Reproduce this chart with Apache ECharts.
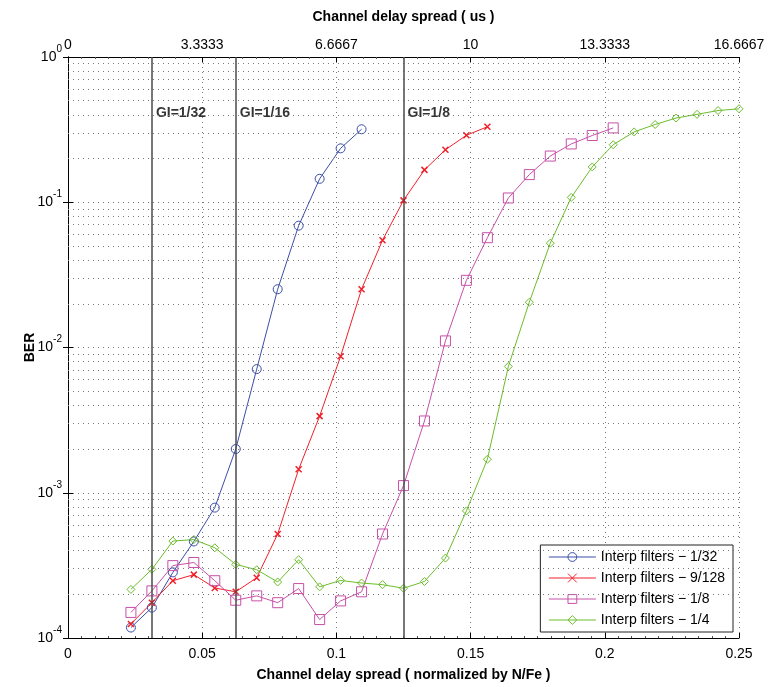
<!DOCTYPE html>
<html>
<head>
<meta charset="utf-8">
<script src="https://cdn.jsdelivr.net/npm/echarts@6/dist/echarts.min.js"></script>
<style>html,body{margin:0;padding:0;background:#fff;}#c{width:768px;height:687px;}</style>
</head>
<body>
<div id="c"></div>
<script>
// Normalized channel delay spread (x = k/128)
var delay = [0.0234375, 0.03125, 0.0390625, 0.046875, 0.0546875, 0.0625, 0.0703125, 0.078125,
  0.0859375, 0.09375, 0.1015625, 0.109375, 0.1171875, 0.125, 0.1328125, 0.140625, 0.1484375,
  0.15625, 0.1640625, 0.171875, 0.1796875, 0.1875, 0.1953125, 0.203125, 0.2109375, 0.21875,
  0.2265625, 0.234375, 0.2421875, 0.25];

var seriesNames = ['Interp filters \u2212 1/32', 'Interp filters \u2212 9/128', 'Interp filters \u2212 1/8', 'Interp filters \u2212 1/4'];

var berF32 = [1.18e-4, 1.62e-4, 2.83e-4, 4.62e-4, 7.9e-4, 2.0e-3, 7.1e-3, 0.0252, 0.069, 0.145, 0.235, 0.318];
var berF9_128 = [1.25e-4, 1.75e-4, 2.48e-4, 2.73e-4, 2.21e-4, 2.08e-4, 2.6e-4, 5.2e-4, 1.45e-3, 3.37e-3,
  8.7e-3, 0.0252, 0.0548, 0.103, 0.167, 0.23, 0.289, 0.331];
var berF8 = [1.5e-4, 2.11e-4, 3.15e-4, 3.31e-4, 2.48e-4, 1.82e-4, 1.95e-4, 1.75e-4, 2.19e-4, 1.34e-4,
  1.8e-4, 2.08e-4, 5.2e-4, 1.12e-3, 3.12e-3, 0.0111, 0.029, 0.057, 0.107, 0.155, 0.208, 0.252, 0.288, 0.325];
var berF4 = [2.16e-4, 2.97e-4, 4.65e-4, 4.76e-4, 4.18e-4, 3.21e-4, 2.95e-4, 2.43e-4, 3.46e-4, 2.25e-4,
  2.49e-4, 2.39e-4, 2.33e-4, 2.2e-4, 2.45e-4, 3.55e-4, 7.5e-4, 1.7e-3, 7.4e-3, 0.0205, 0.0523, 0.108,
  0.175, 0.249, 0.305, 0.343, 0.38, 0.403, 0.428, 0.44];

// Guard-interval markers
var giValues = [0.03125, 0.0625, 0.125];
var giLabels = ['GI=1/32', 'GI=1/16', 'GI=1/8'];

// Tick labels
var usTickLabels = ['0', '3.3333', '6.6667', '10', '13.3333', '16.6667'];
var berExponents = ['0', '-1', '-2', '-3', '-4'];

var colors = ['#3b4fa8', '#f0202a', '#c850a8', '#6cbd2c'];
var font = "'Liberation Sans', Arial, sans-serif";

function pairs(vals) { return vals.map(function (v, i) { return [delay[i], v]; }); }

// minor log grid positions (2..9 x decade)
var minorLines = [];
for (var d = -4; d < 0; d++) {
  for (var m = 2; m <= 9; m++) minorLines.push({ yAxis: m * Math.pow(10, d) });
}

var chart = echarts.init(document.getElementById('c'), null, { renderer: 'canvas' });
var dotted = { color: '#7a7a7a', width: 1, type: [1, 4] };

var option = {
  animation: false,
  backgroundColor: '#fff',
  textStyle: { fontFamily: font },
  grid: { left: 68, right: 29, top: 57, bottom: 48, show: false },
  xAxis: [{
    type: 'value', min: 0, max: 0.25, interval: 0.05, position: 'bottom',
    name: 'Channel delay spread ( normalized by N/Fe )', nameLocation: 'middle', nameGap: 30,
    nameMoveOverlap: false,
    nameTextStyle: { fontFamily: font, fontSize: 14, fontWeight: 'bold', color: '#000' },
    axisLine: { show: true, onZero: false, lineStyle: { color: '#000', width: 1 } },
    axisTick: { show: true, inside: true, length: 5, lineStyle: { color: '#000' } },
    minorTick: { show: true, splitNumber: 10, length: 2, lineStyle: { color: '#555' } },
    axisLabel: { fontFamily: font, fontSize: 14, color: '#000', margin: 9 },
    splitLine: { show: true, lineStyle: dotted }
  }, {
    type: 'value', min: 0, max: 0.25, interval: 0.05, position: 'top',
    name: 'Channel delay spread ( us )', nameLocation: 'middle', nameGap: 33,
    nameMoveOverlap: false,
    nameTextStyle: { fontFamily: font, fontSize: 14, fontWeight: 'bold', color: '#000' },
    axisLine: { show: true, onZero: false, lineStyle: { color: '#000', width: 1 } },
    axisTick: { show: true, inside: true, length: 5, lineStyle: { color: '#000' } },
    minorTick: { show: true, splitNumber: 10, length: 2, lineStyle: { color: '#555' } },
    axisLabel: {
      fontFamily: font, fontSize: 14, color: '#000', margin: 5,
      formatter: function (v) { return usTickLabels[Math.round(v / 0.05)]; }
    },
    splitLine: { show: false }
  }],
  yAxis: [{
    type: 'log', logBase: 10, min: 1e-4, max: 1, position: 'left',
    name: 'BER', nameLocation: 'middle', nameGap: 31, nameRotate: 90,
    nameMoveOverlap: false,
    nameTextStyle: { fontFamily: font, fontSize: 14, fontWeight: 'bold', color: '#000' },
    axisLine: { show: true, lineStyle: { color: '#000', width: 1 } },
    axisTick: { show: true, inside: true, length: 5, lineStyle: { color: '#000' } },
    axisLabel: {
      margin: 6,
      padding: [0, 0, 6, 0],
      formatter: function (v) {
        var e = berExponents[Math.round(-Math.log10(v))];
        return '{b|10}{s|' + e + '}';
      },
      rich: {
        b: { fontFamily: font, fontSize: 14, color: '#000', lineHeight: 20, verticalAlign: 'bottom' },
        s: { fontFamily: font, fontSize: 10, color: '#000', lineHeight: 12, verticalAlign: 'top' }
      }
    },
    splitLine: { show: true, lineStyle: dotted }
  }, {
    type: 'log', logBase: 10, min: 1e-4, max: 1, position: 'right',
    axisLine: { show: true, lineStyle: { color: '#000', width: 1 } },
    axisTick: { show: true, inside: true, length: 5, lineStyle: { color: '#000' } },
    axisLabel: { show: false },
    splitLine: { show: false }
  }],
  legend: {
    data: seriesNames,
    orient: 'vertical', right: 35, bottom: 55,
    backgroundColor: '#fff', borderColor: '#222', borderWidth: 1,
    padding: [5, 8, 5, 8], itemGap: 7, itemWidth: 47, itemHeight: 11,
    lineStyle: { width: 1 },
    itemStyle: { borderWidth: 1 },
    textStyle: { fontFamily: font, fontSize: 14, color: '#000', lineHeight: 14 }
  },
  series: [
    {
      type: 'line', name: 'minorgrid', xAxisIndex: 0, yAxisIndex: 0, data: [], silent: true,
      markLine: { silent: true, precision: 10, symbol: ['none', 'none'], label: { show: false }, lineStyle: dotted, data: minorLines }
    },
    {
      type: 'line', name: 'gi', xAxisIndex: 0, yAxisIndex: 0, data: [], silent: true,
      markLine: {
        silent: true, precision: 10, symbol: ['none', 'none'], label: { show: false },
        lineStyle: { color: '#4a4a4a', width: 1.5, type: 'solid' },
        data: giValues.map(function (v) { return { xAxis: v }; })
      }
    },
    {
      type: 'scatter', name: 'gilabels', xAxisIndex: 0, yAxisIndex: 0, silent: true,
      symbolSize: 0,
      data: giValues.map(function (v, i) { return { value: [v, 0.41], name: giLabels[i] }; }),
      label: {
        show: true, position: 'right', distance: 4,
        formatter: function (p) { return p.name; },
        fontFamily: font, fontSize: 14, fontWeight: 'bold', color: '#000'
      }
    },
    {
      type: 'line', name: seriesNames[0], data: pairs(berF32),
      symbol: 'circle', symbolSize: 9,
      lineStyle: { color: colors[0], width: 1 },
      itemStyle: { color: 'rgba(255,255,255,0)', borderColor: colors[0], borderWidth: 1 }
    },
    {
      type: 'line', name: seriesNames[1], data: pairs(berF9_128),
      symbol: 'path://M0 0L10 10M10 0L0 10', symbolSize: 6,
      lineStyle: { color: colors[1], width: 1 },
      itemStyle: { color: 'rgba(255,255,255,0)', borderColor: colors[1], borderWidth: 1.5 }
    },
    {
      type: 'line', name: seriesNames[2], data: pairs(berF8),
      symbol: 'rect', symbolSize: 10,
      lineStyle: { color: colors[2], width: 1 },
      itemStyle: { color: 'rgba(255,255,255,0)', borderColor: colors[2], borderWidth: 1 }
    },
    {
      type: 'line', name: seriesNames[3], data: pairs(berF4),
      symbol: 'diamond', symbolSize: 8,
      lineStyle: { color: colors[3], width: 1 },
      itemStyle: { color: 'rgba(255,255,255,0)', borderColor: colors[3], borderWidth: 1 }
    }
  ]
};
chart.setOption(option);
</script>
</body>
</html>
